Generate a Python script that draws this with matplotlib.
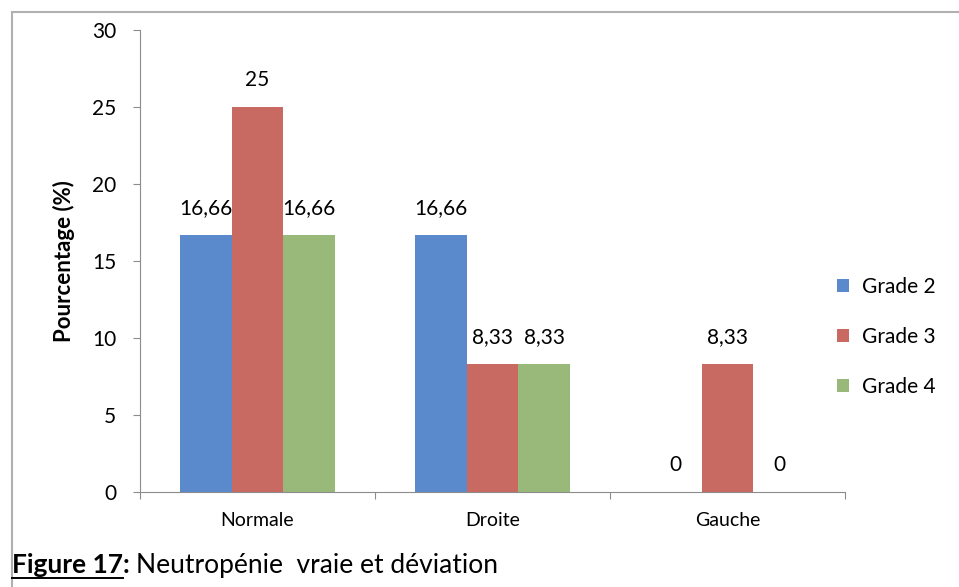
import numpy as np
import matplotlib.pyplot as plt
from matplotlib.patches import Rectangle

categories = ['Normale', 'Droite', 'Gauche']
series = ['Grade 2', 'Grade 3', 'Grade 4']
grade2 = [16.66, 16.66, 0]
grade3 = [25, 8.33, 8.33]
grade4 = [16.66, 8.33, 0]
colors = ['#5A8ACB', '#C96A62', '#98B97A']

plt.rcParams['font.family'] = ['Lato', 'DejaVu Sans']

fig = plt.figure(figsize=(9.59, 5.87), dpi=100)
ax = fig.add_axes([0.146, 0.1618, 0.735, 0.7871])

x = np.arange(len(categories))
w = 0.22
for i, (vals, name) in enumerate(zip([grade2, grade3, grade4], series)):
    pos = x + (i - 1) * w
    ax.bar(pos, vals, width=w, color=colors[i], label=name)
    for px, v in zip(pos, vals):
        txt = ('%.2f' % v).rstrip('0').rstrip('.').replace('.', ',')
        ax.text(px, v + 1.1, txt, ha='center', va='bottom', fontsize=15)

ax.set_xlim(-0.5, 2.5)
ax.set_ylim(0, 30)
ax.set_yticks(range(0, 31, 5))
ax.set_xticks([-0.5, 0.5, 1.5, 2.5])
ax.set_xticklabels([])
for xi, c in zip(x, categories):
    ax.text(xi, -1.3, c, ha='center', va='top', fontsize=14)

for s in ['top', 'right']:
    ax.spines[s].set_visible(False)
for s in ['left', 'bottom']:
    ax.spines[s].set_color('#8c8c8c')
ax.tick_params(axis='y', length=5, color='#8c8c8c', labelsize=15, pad=12)
ax.tick_params(axis='x', length=5, color='#8c8c8c')
ax.set_ylabel('Pourcentage (%)', fontsize=16, fontweight='bold', labelpad=12)

ax.legend(loc='center left', bbox_to_anchor=(0.853, 0.276, 0.2, 0.3),
          bbox_transform=fig.transFigure, frameon=False, fontsize=15,
          handlelength=0.6, handleheight=0.6, labelspacing=1.45, handletextpad=0.6)

# frame around the chart
fig.patches.append(Rectangle((0.012, -0.01), 1.2, 0.99, transform=fig.transFigure,
                             fill=False, edgecolor='#b0b0b0', linewidth=1.5))

cap = fig.text(0.013, 0.024, 'Figure 17:', fontsize=19, fontweight='bold', va='baseline')
fig.canvas.draw()
bb = cap.get_window_extent().transformed(fig.transFigure.inverted())
fig.text(bb.x1 + 0.006, 0.024, 'Neutropénie  vraie et déviation', fontsize=19, va='baseline')
bb17 = fig.text(0, 0, 'Figure 17', fontsize=19, fontweight='bold', alpha=0)
bb17 = bb17.get_window_extent(renderer=fig.canvas.get_renderer()).width / fig.bbox.width
fig.lines.append(plt.Line2D([0.013, 0.013 + bb17], [0.016, 0.016], transform=fig.transFigure,
                            color='black', linewidth=1.4))

fig.savefig('out.png', dpi=100)
